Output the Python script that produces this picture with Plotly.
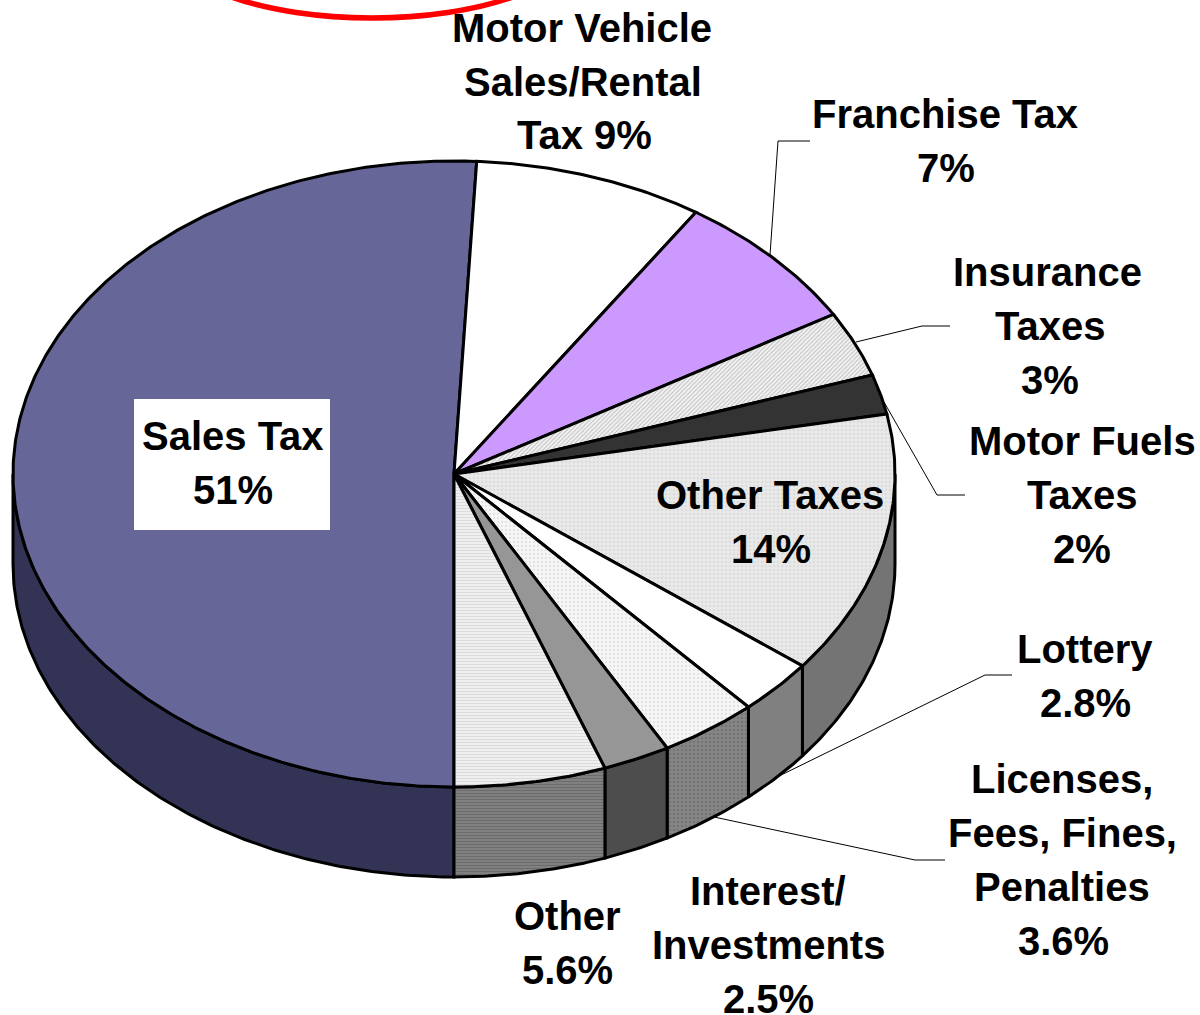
import numpy as np
import plotly.graph_objects as go

# Slices, clockwise from the 6 o'clock position
slice_names = ["Sales Tax", "Motor Vehicle Sales/Rental Tax", "Franchise Tax", "Insurance Taxes",
               "Motor Fuels Taxes", "Other Taxes", "Lottery", "Licenses, Fees, Fines, Penalties",
               "Interest/Investments", "Other"]
slice_shares = [50.83, 8.42, 7.25, 3.39, 2.05, 13.58, 2.86, 3.61, 2.47, 5.56]
top_colors = ["#666699", "#FFFFFF", "#CC99FF", "#E4E4E4", "#333333", "#E8E8E8", "#FFFFFF", "#F2F2F2", "#969696", "#EEEEEE"]
side_colors = ["#333355", "#808080", "#666680", "#777777", "#1A1A1A", "#747474", "#808080", "#808080", "#4D4D4D", "#787878"]
top_patterns = [None, None, None, ("/", "#BBBBBB", "#F2F2F2", 3, 0.3), None, (".", "#DCDCDC", "#E9E9E9", 4, 0.3),
                None, (".", "#E4E4E4", "#F7F7F7", 4, 0.3), None, ("-", "#DCDCDC", "#F2F2F2", 3, 0.4)]
side_patterns = [None, None, None, None, None, None, None, (".", "#747474", "#868686", 4, 0.3), None,
                 ("-", "#6C6C6C", "#828282", 3, 0.4)]

# Label text lines: (text, centre x, centre y)
label_lines = [
    ("Motor Vehicle", 582, 28), ("Sales/Rental", 583, 82), ("Tax 9%", 584, 135),
    ("Franchise Tax", 945, 114), ("7%", 946, 168),
    ("Insurance", 1047, 272), ("Taxes", 1050, 326), ("3%", 1050, 380),
    ("Motor Fuels", 1082, 441), ("Taxes", 1082, 495), ("2%", 1082, 549),
    ("Other Taxes", 770, 495), ("14%", 771, 549),
    ("Lottery", 1085, 649), ("2.8%", 1085, 703),
    ("Licenses,", 1062, 779), ("Fees, Fines,", 1062, 833), ("Penalties", 1062, 887), ("3.6%", 1063, 941),
    ("Interest/", 768, 891), ("Investments", 768, 945), ("2.5%", 768, 999),
    ("Other", 567, 916), ("5.6%", 567, 970),
    ("Sales Tax", 233, 436), ("51%", 233, 490),
]
leader_xs = [[810, 778, 770], [856, 922, 950], [884, 937, 965], [775, 985, 1012], [714, 915, 945]]
leader_ys = [[141, 141, 255], [342, 326, 326], [402, 495, 495], [778, 675, 675], [817, 860, 860]]

CX, CY, RX, RY, DEPTH = 454, 474, 441, 313, 90


def arc(a0, a1, dy=0):
    n = max(3, int(abs(a1 - a0) * 2) + 2)
    t = np.radians(np.linspace(a0, a1, n))
    return CX + RX * np.sin(t), CY - RY * np.cos(t) + dy


def pattern(p):
    if p is None:
        return None
    return dict(shape=p[0], fgcolor=p[1], bgcolor=p[2], size=p[3], solidity=p[4], fillmode="replace")


fig = go.Figure()
edges = 180 + np.concatenate([[0], np.cumsum(slice_shares)]) * 360 / sum(slice_shares)
wedges = [(edges[i], edges[i + 1]) for i in range(len(slice_shares))]

# Side wall, only the part that faces the viewer (90 to 270 degrees)
for i, (a0, a1) in enumerate(wedges):
    for shift in (0, 360, -360):
        lo, hi = max(a0 + shift, 90), min(a1 + shift, 270)
        if hi > lo:
            x1, y1 = arc(lo, hi)
            x2, y2 = arc(hi, lo, DEPTH)
            kw = {"fillpattern": pattern(side_patterns[i])} if side_patterns[i] else {}
            fig.add_trace(go.Scatter(x=np.r_[x1, x2, x1[0]], y=np.r_[y1, y2, y1[0]], mode="lines", fill="toself",
                                     fillcolor=side_colors[i], line=dict(color="black", width=3), name=slice_names[i],
                                     hoverinfo="skip", **kw))

# Top face
for i, (a0, a1) in enumerate(wedges):
    x1, y1 = arc(a0, a1)
    kw = {"fillpattern": pattern(top_patterns[i])} if top_patterns[i] else {}
    fig.add_trace(go.Scatter(x=np.r_[CX, x1, CX], y=np.r_[CY, y1, CY], mode="lines", fill="toself",
                             fillcolor=top_colors[i], line=dict(color="black", width=3), name=slice_names[i],
                             hoverinfo="skip", **kw))

for xs, ys in zip(leader_xs, leader_ys):
    fig.add_trace(go.Scatter(x=xs, y=ys, mode="lines", line=dict(color="black", width=1), hoverinfo="skip"))

for text, x, y in label_lines:
    fig.add_annotation(x=x, y=y, text=f"<b>{text}</b>", showarrow=False, xanchor="center", yanchor="middle",
                       font=dict(family="Liberation Sans", size=40, color="black"))

fig.update_layout(
    width=1200, height=1015, margin=dict(l=0, r=0, t=0, b=0), showlegend=False,
    paper_bgcolor="white", plot_bgcolor="white",
    xaxis=dict(range=[0, 1200], visible=False, fixedrange=True),
    yaxis=dict(range=[1015, 0], visible=False, fixedrange=True),
    shapes=[
        dict(type="rect", x0=134, x1=330, y0=399, y1=530, fillcolor="white", line=dict(width=0), layer="above"),
        dict(type="circle", x0=166, x1=578, y0=-138, y1=18, line=dict(color="#FF0000", width=5.5), layer="above"),
    ],
)
fig.write_html("out.html", config={"displayModeBar": False},
               post_script="document.body.style.margin='0';document.documentElement.style.overflow='hidden';")
